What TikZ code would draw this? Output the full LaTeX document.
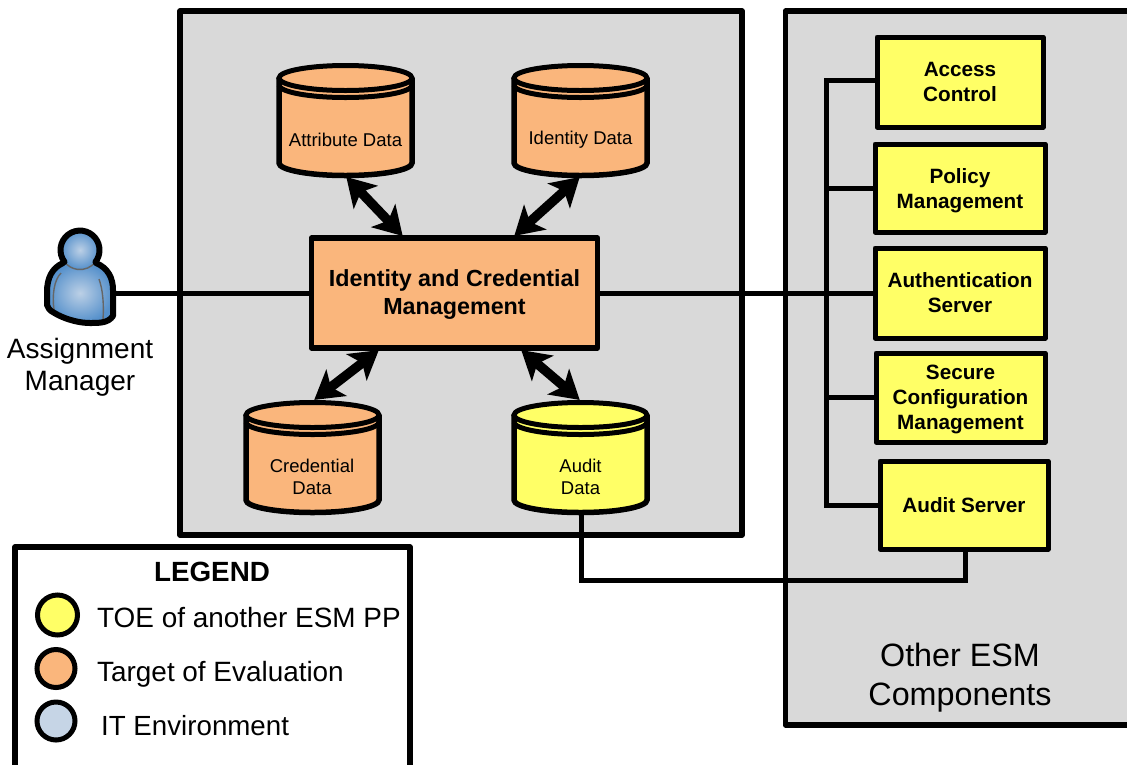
\documentclass[tikz,border=0pt]{standalone}
\usepackage{fontspec}
\setmainfont{Liberation Sans}
\usetikzlibrary{arrows.meta}
\definecolor{panelgray}{HTML}{D9D9D9}
\definecolor{toeorange}{HTML}{FAB67C}
\definecolor{toeyellow}{HTML}{FFFF66}
\definecolor{itblue}{HTML}{C6D5E6}
\definecolor{personblue}{HTML}{5590CB}
\definecolor{personlight}{HTML}{BCD0E6}
\newcommand{\fs}[2]{\fontsize{#1pt}{#2pt}\selectfont}
\tikzset{
  x=1pt,y=-1pt,
  panel/.style={draw=black,fill=panelgray,line width=5.5pt,line join=round,anchor=north west,inner sep=0pt,outer sep=0pt},
  mainbox/.style={draw=black,fill=toeorange,line width=5.5pt,line join=round,inner sep=0pt,align=center,minimum width=286pt,minimum height=110pt,font=\fs{23.3}{28}\bfseries},
  compbox/.style={draw=black,fill=toeyellow,line width=5pt,line join=round,inner sep=0pt,align=center,font=\fs{20.7}{25}\bfseries},
  wire/.style={draw=black,line width=5pt},
  duplex/.style={draw=black,line width=9.5pt,{Stealth[length=28pt,width=33pt,inset=7pt]}-{Stealth[length=28pt,width=33pt,inset=7pt]},shorten <=-1pt,shorten >=-1pt},
  label/.style={inner sep=0pt,align=center},
  storelabel/.style={inner sep=0pt,align=center,font=\fs{18.5}{22}},
  legenddot/.style={circle,draw=black,line width=5pt,inner sep=0pt},
  legendtext/.style={inner sep=0pt,anchor=west,font=\fs{27.9}{32}},
  cylanchor/.style={inner sep=0pt,minimum width=134pt,minimum height=115pt},
  persongrey/.style={line width=1.4pt,black!60},
  personskin/.style={inner color=personlight,outer color=personblue},
  personline/.style={draw=black,line width=6pt,line join=round,line cap=round},
}
% #1 name, #2 centre x, #3 top y, #4 colour
\newcommand{\datastore}[4]{%
  \fill[#4] (#2-66.5,#3+16) arc[start angle=180,end angle=360,x radius=66.5,y radius=12.5]
     -- (#2+66.5,#3+101) arc[start angle=0,end angle=180,x radius=66.5,y radius=12.5] -- cycle;
  \draw[line width=5.5pt,black] (#2-66.5,#3+16) -- (#2-66.5,#3+101)
     arc[start angle=180,end angle=0,x radius=66.5,y radius=12.5] -- (#2+66.5,#3+16);
  \draw[line width=5pt,black] (#2-66.5,#3+23) arc[start angle=180,end angle=0,x radius=66.5,y radius=12.5];
  \draw[line width=5pt,black] (#2,#3+16) ellipse[x radius=66.5,y radius=12.5];
  \node[cylanchor] (#1) at (#2,#3+58) {};
}
\begin{document}
\begin{tikzpicture}
\useasboundingbox (0,0) rectangle (1127,764);
\clip (0,0) rectangle (1127,764);

% panels
\node[panel,minimum width=562pt,minimum height=524pt] (toepanel) at (180,11) {};
\node[panel,minimum width=361pt,minimum height=714pt] (otherpanel) at (785.5,11) {};
\node[panel,fill=white,minimum width=395pt,minimum height=240pt] (legend) at (15,547) {};

% component boxes
\node[compbox,minimum width=166pt,minimum height=90pt] (access) at (960,82) {Access\\Control};
\node[compbox,minimum width=170pt,minimum height=88pt] (policy) at (960,188) {\rule{0pt}{20pt}Policy\\Management};
\node[compbox,minimum width=170pt,minimum height=90pt] (auth) at (960,293) {Authentication\\Server};
\node[compbox,minimum width=169pt,minimum height=89pt] (secure) at (960.5,397.5) {\rule{0pt}{19pt}Secure\\Configuration\\Management};
\node[compbox,minimum width=168pt,minimum height=88pt] (audit) at (964,505) {Audit Server};

% bus
\coordinate (busTop) at (826,80.5);
\coordinate (busBot) at (826,505);
\draw[wire] (access.west |- busTop) -- (busTop) -- (busBot) -- (audit.west);
\draw[wire] (policy.west) -- (policy.west -| busTop);
\draw[wire] (secure.west) -- (secure.west -| busTop);

% data stores
\datastore{attrdata}{345.5}{62}{toeorange}
\node[storelabel] (attrlabel) at (345.5,140) {Attribute Data};
\datastore{iddata}{580.5}{62}{toeorange}
\node[storelabel] (idlabel) at (580.5,139.5) {Identity Data};
\datastore{creddata}{312.5}{399}{toeorange}
\node[storelabel] (credlabel) at (312,476.5) {Credential\\Data};
\datastore{auditdata}{580.5}{399}{toeyellow}
\node[storelabel] (auditlabel) at (580.5,476.5) {Audit\\Data};

% audit link
\coordinate (auditElbowA) at (581,580);
\coordinate (auditElbowB) at (965,580);
\draw[wire] (auditdata.south -| auditElbowA) -- (auditElbowA) -- (auditElbowB) -- (audit.south -| auditElbowB);

% person
\node[inner sep=0pt,minimum width=70pt,minimum height=64pt] (person) at (80,293) {};
\shade[personskin]
  (63,263) .. controls (52,268) and (47,278) .. (47,292) -- (47,305)
  .. controls (49,311) and (53,312) .. (58,315)
  .. controls (68,320) and (80,323) .. (90,323)
  .. controls (100,323) and (108,323) .. (113,316)
  -- (113,290) .. controls (113,278) and (108,268) .. (96,263) -- cycle;
\draw[persongrey] (61,273) .. controls (54,280) and (52,295) .. (54,310);
\draw[persongrey] (99,279) .. controls (103,290) and (104,305) .. (103,320);
\shade[personskin] (80,250) circle[radius=19.5];
\draw[persongrey] (95.5,261.9) arc[start angle=37.4,end angle=142.6,radius=19.5];
\draw[personline]
  (63,263) .. controls (52,268) and (47,278) .. (47,292) -- (47,305)
  .. controls (49,311) and (53,312) .. (58,315)
  .. controls (68,320) and (80,323) .. (90,323)
  .. controls (100,323) and (108,323) .. (113,316)
  -- (113,290) .. controls (113,278) and (108,268) .. (96,263);
\draw[personline] (64.5,261.9) arc[start angle=142.6,end angle=397.4,radius=19.5];
\node[label,font=\fs{28}{32}] (personlabel) at (80,367) {Assignment\\Manager};

% central
\node[mainbox] (central) at (454.5,293) {\rule{0pt}{19pt}Identity and Credential\\Management};

% wires to central
\draw[wire] (person.east) -- (central.west);
\draw[wire] (central.east) -- (auth.west);

% duplex arrows
\draw[duplex] ([xshift=1.5pt]attrdata.south) -- ([xshift=-52.5pt]central.north);
\draw[duplex] ([xshift=-1.5pt]iddata.south) -- ([xshift=60.5pt]central.north);
\draw[duplex] ([xshift=-76.5pt]central.south) -- ([xshift=2.5pt]creddata.north);
\draw[duplex] ([xshift=67.5pt]central.south) -- ([xshift=-1.5pt]auditdata.north);

% labels
\node[label,font=\fs{32.3}{39}] (otherlabel) at (960,678) {Other ESM\\Components};

% legend
\node[label,font=\fs{27.8}{32}\bfseries] (legendtitle) at (212,572) {LEGEND};
\node[legenddot,fill=toeyellow,minimum size=40pt] (dotyellow) at (57.5,615) {};
\node[legenddot,fill=toeorange,minimum size=38pt] (dotorange) at (56,668.5) {};
\node[legenddot,fill=itblue,minimum size=38pt] (dotblue) at (56,721) {};
\node[legendtext] (texty) at (97,618) {TOE of another ESM PP};
\node[legendtext] (texto) at (97,674) {Target of Evaluation};
\node[legendtext,font=\fs{27.7}{32}] (textb) at (101,726) {IT Environment};
\end{tikzpicture}
\end{document}
